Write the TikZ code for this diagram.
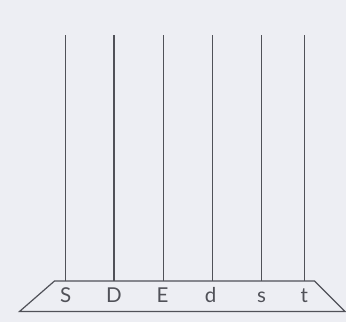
\documentclass[tikz,border=0pt]{standalone}
\usepackage{fontspec}
\setmainfont{Lato}
\usepackage{xcolor}
\usepackage{tikz}
\definecolor{paper}{HTML}{EDEEF3}
\definecolor{ink}{HTML}{505158}

\begin{document}
\begin{tikzpicture}[
          x=1pt,y=-1pt,
          rod/.style={draw=ink,line width=1.2pt},
          stand/.style={draw=ink,line width=1.2pt,line join=miter},
          letter/.style={text=ink,font=\fontsize{20.5}{20.5}\selectfont,
                         inner sep=0pt,anchor=base}
      ]
        \fill[paper] (0,0) rectangle (346,322);
        \useasboundingbox (0,0) rectangle (346,322);

        % base of the stand
        \coordinate (tl) at (54.5,281);
        \coordinate (tr) at (314.5,281);
        \coordinate (br) at (345,311.5);
        \coordinate (bl) at (19.5,311.5);
        \draw[stand] (tl) -- (tr) -- (br) -- (bl) -- cycle;

        % tops of the rods
        \coordinate (rS) at (65.7,35);
        \coordinate (rD) at (114,35);
        \coordinate (rE) at (163.3,35);
        \coordinate (rd) at (212.3,35);
        \coordinate (rs) at (261.3,35);
        \coordinate (rt) at (304.3,35);

        \draw[rod] (rS) -- (rS |- tl);
        \draw[rod] (rD) -- (rD |- tl);
        \draw[rod] (rE) -- (rE |- tl);
        \draw[rod] (rd) -- (rd |- tl);
        \draw[rod] (rs) -- (rs |- tl);
        \draw[rod] (rt) -- (rt |- tl);

        \node[letter] (letS) at (65.7,302) {S};
        \node[letter] (letD) at (114,302) {D};
        \node[letter] (letE) at (162.5,302) {E};
        \node[letter] (letd) at (210.5,302) {d};
        \node[letter] (lets) at (261.5,302) {s};
        \node[letter] (lett) at (304.3,302) {t};
      \end{tikzpicture}
\end{document}
